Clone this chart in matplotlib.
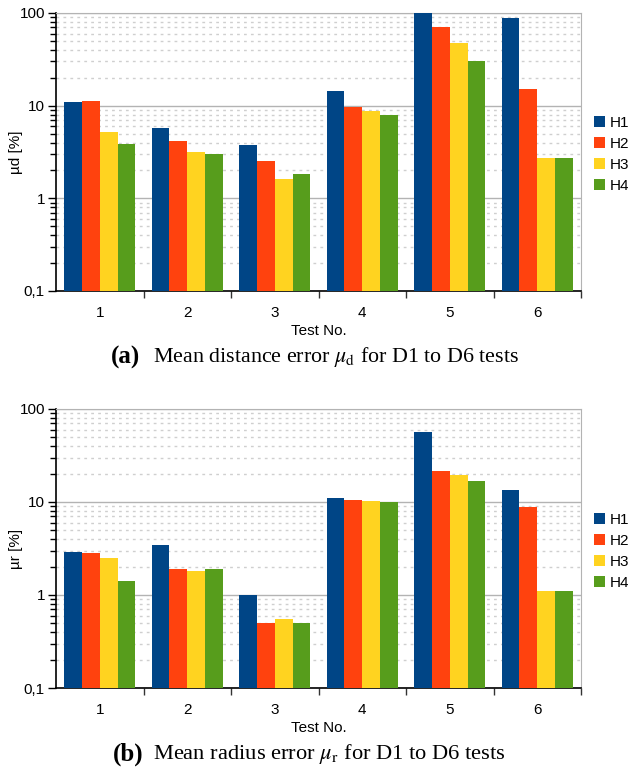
import matplotlib
matplotlib.use("Agg")
import matplotlib.pyplot as plt
import numpy as np
from matplotlib.ticker import LogLocator, FixedLocator, NullFormatter, FixedFormatter

plt.rcParams['font.family'] = ['Liberation Sans', 'DejaVu Sans']
plt.rcParams['mathtext.fontset'] = 'stix'

tests = ["1", "2", "3", "4", "5", "6"]
series = ["H1", "H2", "H3", "H4"]
colors = ["#004586", "#ff420e", "#ffd320", "#579d1c"]

mu_d = {
    "H1": [10.9, 5.7, 3.73, 14.3, 100, 87.5],
    "H2": [11.1, 4.2, 2.5, 9.6, 70, 15],
    "H3": [5.15, 3.2, 1.6, 8.7, 47, 2.7],
    "H4": [3.83, 2.98, 1.82, 7.9, 30, 2.7],
}
mu_r = {
    "H1": [2.89, 3.44, 1.0, 11.0, 57, 13.5],
    "H2": [2.82, 1.89, 0.494, 10.5, 21.6, 8.8],
    "H3": [2.49, 1.80, 0.546, 10.25, 19.6, 1.1],
    "H4": [1.40, 1.89, 0.494, 10.0, 16.9, 1.1],
}
ytick_labels = ["0,1", "1", "10", "100"]

W, H = 629, 772
FS = 11
fig = plt.figure(figsize=(W / 100, H / 100), dpi=100)

def px_axes(left, top, right, bottom):
    return fig.add_axes([left / W, 1 - bottom / H, (right - left) / W, (bottom - top) / H])

def draw(ax, data, ylabel, legend_y):
    n = len(tests)
    x = np.arange(n)
    bw = 0.204
    for i, s in enumerate(series):
        ax.bar(x + (i - 1.5) * bw, data[s], width=bw, color=colors[i],
               label=s, zorder=3, linewidth=0)
    ax.set_yscale('log')
    ax.set_ylim(0.1, 100)
    ax.set_xlim(-0.5, n - 0.5)
    ax.set_axisbelow(True)
    ax.yaxis.set_major_locator(FixedLocator([0.1, 1, 10, 100]))
    ax.yaxis.set_major_formatter(FixedFormatter(ytick_labels))
    ax.yaxis.set_minor_locator(LogLocator(base=10, subs=np.arange(2, 10)))
    ax.yaxis.set_minor_formatter(NullFormatter())
    ax.grid(True, which='major', axis='y', color='#b3b3b3', linewidth=1.0, linestyle='-', zorder=0)
    ax.grid(True, which='minor', axis='y', color='#cfcfcf', linewidth=1.0, linestyle=(0, (2, 3)), zorder=0)
    ax.set_xticks(np.arange(0.5, n, 1.0))
    ax.set_xticklabels([])
    ax.set_xticks(x, minor=True)
    ax.set_xticklabels(tests, minor=True)
    ax.tick_params(axis='x', which='major', direction='out', length=5, width=1, color='#333333')
    ax.tick_params(axis='x', which='minor', length=0, pad=11, labelsize=FS)
    ax.tick_params(axis='y', which='major', direction='out', length=6, width=1, labelsize=FS, pad=2)
    ax.tick_params(axis='y', which='minor', direction='out', length=4, width=1)
    ax.spines['left'].set_color('black')
    ax.spines['bottom'].set_color('black')
    ax.spines['left'].set_linewidth(1.2)
    ax.spines['bottom'].set_linewidth(1.2)
    ax.spines['top'].set_color('#b3b3b3')
    ax.spines['right'].set_color('#b3b3b3')
    ax.set_xlabel("Test No.", fontsize=FS, labelpad=3)
    ax.set_ylabel(ylabel, fontsize=FS)
    ax.yaxis.set_label_coords((23 - 56) / 525, 0.5)
    ax.legend(loc='upper left', bbox_to_anchor=(594 / W, 1 - legend_y / H),
              bbox_transform=fig.transFigure, frameon=False, fontsize=FS,
              handlelength=0.7, handleheight=0.7, handletextpad=0.35,
              labelspacing=0.45, borderaxespad=0, borderpad=0)
    return ax

ax1 = px_axes(56, 13, 581, 291)
draw(ax1, mu_d, "µd [%]", 116)
ax2 = px_axes(56, 409, 581, 688)
draw(ax2, mu_r, "µr [%]", 513)

def caption(y, tag, text, x0, x1, size):
    fig.text(x0 / W, 1 - y / H, tag, fontsize=18, fontweight='bold',
             family=['Liberation Serif'], ha='left', va='center')
    fig.text(x1 / W, 1 - y / H, text, fontsize=size,
             family=['Liberation Serif'], ha='left', va='center')

caption(357, "(a)", r"Mean distance error $\mu_\mathrm{d}$ for D1 to D6 tests", 111, 153, 15.8)
caption(754, "(b)", r"Mean radius error $\mu_\mathrm{r}$ for D1 to D6 tests", 113, 153, 16.2)

fig.savefig("out.png", dpi=100)
